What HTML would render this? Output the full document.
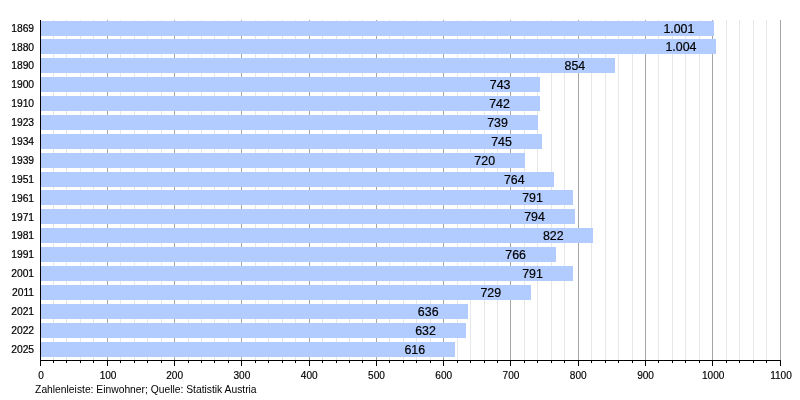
<!DOCTYPE html>
<html lang="de"><head><meta charset="utf-8"><title>Einwohner</title>
<style>html,body{margin:0;padding:0;background:#fff;overflow:hidden}svg{display:block}text{font-family:"Liberation Sans",Arial,Helvetica,sans-serif;fill:#000}</style></head><body>
<svg width="800" height="400" viewBox="0 0 800 400">
<rect width="800" height="400" fill="#fff"/>
<g shape-rendering="crispEdges">
<rect x="53.00" y="20" width="1" height="340" fill="#e6e6e6"/>
<rect x="66.00" y="20" width="1" height="340" fill="#e6e6e6"/>
<rect x="80.00" y="20" width="1" height="340" fill="#e6e6e6"/>
<rect x="93.00" y="20" width="1" height="340" fill="#e6e6e6"/>
<rect x="107.00" y="20" width="1" height="340" fill="#a6a6a6"/>
<rect x="120.00" y="20" width="1" height="340" fill="#e6e6e6"/>
<rect x="134.00" y="20" width="1" height="340" fill="#e6e6e6"/>
<rect x="147.00" y="20" width="1" height="340" fill="#e6e6e6"/>
<rect x="161.00" y="20" width="1" height="340" fill="#e6e6e6"/>
<rect x="174.00" y="20" width="1" height="340" fill="#a6a6a6"/>
<rect x="188.00" y="20" width="1" height="340" fill="#e6e6e6"/>
<rect x="201.00" y="20" width="1" height="340" fill="#e6e6e6"/>
<rect x="214.00" y="20" width="1" height="340" fill="#e6e6e6"/>
<rect x="228.00" y="20" width="1" height="340" fill="#e6e6e6"/>
<rect x="241.00" y="20" width="1" height="340" fill="#a6a6a6"/>
<rect x="255.00" y="20" width="1" height="340" fill="#e6e6e6"/>
<rect x="268.00" y="20" width="1" height="340" fill="#e6e6e6"/>
<rect x="282.00" y="20" width="1" height="340" fill="#e6e6e6"/>
<rect x="295.00" y="20" width="1" height="340" fill="#e6e6e6"/>
<rect x="309.00" y="20" width="1" height="340" fill="#a6a6a6"/>
<rect x="322.00" y="20" width="1" height="340" fill="#e6e6e6"/>
<rect x="336.00" y="20" width="1" height="340" fill="#e6e6e6"/>
<rect x="349.00" y="20" width="1" height="340" fill="#e6e6e6"/>
<rect x="362.00" y="20" width="1" height="340" fill="#e6e6e6"/>
<rect x="376.00" y="20" width="1" height="340" fill="#a6a6a6"/>
<rect x="389.00" y="20" width="1" height="340" fill="#e6e6e6"/>
<rect x="403.00" y="20" width="1" height="340" fill="#e6e6e6"/>
<rect x="416.00" y="20" width="1" height="340" fill="#e6e6e6"/>
<rect x="430.00" y="20" width="1" height="340" fill="#e6e6e6"/>
<rect x="443.00" y="20" width="1" height="340" fill="#a6a6a6"/>
<rect x="457.00" y="20" width="1" height="340" fill="#e6e6e6"/>
<rect x="470.00" y="20" width="1" height="340" fill="#e6e6e6"/>
<rect x="484.00" y="20" width="1" height="340" fill="#e6e6e6"/>
<rect x="497.00" y="20" width="1" height="340" fill="#e6e6e6"/>
<rect x="510.00" y="20" width="1" height="340" fill="#a6a6a6"/>
<rect x="524.00" y="20" width="1" height="340" fill="#e6e6e6"/>
<rect x="537.00" y="20" width="1" height="340" fill="#e6e6e6"/>
<rect x="551.00" y="20" width="1" height="340" fill="#e6e6e6"/>
<rect x="564.00" y="20" width="1" height="340" fill="#e6e6e6"/>
<rect x="578.00" y="20" width="1" height="340" fill="#a6a6a6"/>
<rect x="591.00" y="20" width="1" height="340" fill="#e6e6e6"/>
<rect x="605.00" y="20" width="1" height="340" fill="#e6e6e6"/>
<rect x="618.00" y="20" width="1" height="340" fill="#e6e6e6"/>
<rect x="632.00" y="20" width="1" height="340" fill="#e6e6e6"/>
<rect x="645.00" y="20" width="1" height="340" fill="#a6a6a6"/>
<rect x="658.00" y="20" width="1" height="340" fill="#e6e6e6"/>
<rect x="672.00" y="20" width="1" height="340" fill="#e6e6e6"/>
<rect x="685.00" y="20" width="1" height="340" fill="#e6e6e6"/>
<rect x="699.00" y="20" width="1" height="340" fill="#e6e6e6"/>
<rect x="712.00" y="20" width="1" height="340" fill="#a6a6a6"/>
<rect x="726.00" y="20" width="1" height="340" fill="#e6e6e6"/>
<rect x="739.00" y="20" width="1" height="340" fill="#e6e6e6"/>
<rect x="753.00" y="20" width="1" height="340" fill="#e6e6e6"/>
<rect x="766.00" y="20" width="1" height="340" fill="#e6e6e6"/>
<rect x="780.00" y="20" width="1" height="340" fill="#a6a6a6"/>
</g>
<g>
<rect x="41" y="21.00" width="673.00" height="15" fill="#b2ccff"/>
<rect x="41" y="39.00" width="675.00" height="15" fill="#b2ccff"/>
<rect x="41" y="58.00" width="574.00" height="15" fill="#b2ccff"/>
<rect x="41" y="77.00" width="499.00" height="15" fill="#b2ccff"/>
<rect x="41" y="96.00" width="499.00" height="15" fill="#b2ccff"/>
<rect x="41" y="115.00" width="497.00" height="15" fill="#b2ccff"/>
<rect x="41" y="134.00" width="501.00" height="15" fill="#b2ccff"/>
<rect x="41" y="153.00" width="484.00" height="15" fill="#b2ccff"/>
<rect x="41" y="172.00" width="513.00" height="15" fill="#b2ccff"/>
<rect x="41" y="190.00" width="532.00" height="15" fill="#b2ccff"/>
<rect x="41" y="209.00" width="534.00" height="15" fill="#b2ccff"/>
<rect x="41" y="228.00" width="552.00" height="15" fill="#b2ccff"/>
<rect x="41" y="247.00" width="515.00" height="15" fill="#b2ccff"/>
<rect x="41" y="266.00" width="532.00" height="15" fill="#b2ccff"/>
<rect x="41" y="285.00" width="490.00" height="15" fill="#b2ccff"/>
<rect x="41" y="304.00" width="427.00" height="15" fill="#b2ccff"/>
<rect x="41" y="323.00" width="425.00" height="15" fill="#b2ccff"/>
<rect x="41" y="342.00" width="414.00" height="15" fill="#b2ccff"/>
</g>
<g fill="#000" shape-rendering="crispEdges">
<rect x="40" y="20" width="1" height="341"/>
<rect x="40" y="360" width="741" height="1"/>
<rect x="40.00" y="360" width="1" height="5.6"/>
<rect x="53.00" y="360" width="1" height="2.8"/>
<rect x="66.00" y="360" width="1" height="2.8"/>
<rect x="80.00" y="360" width="1" height="2.8"/>
<rect x="93.00" y="360" width="1" height="2.8"/>
<rect x="107.00" y="360" width="1" height="5.6"/>
<rect x="120.00" y="360" width="1" height="2.8"/>
<rect x="134.00" y="360" width="1" height="2.8"/>
<rect x="147.00" y="360" width="1" height="2.8"/>
<rect x="161.00" y="360" width="1" height="2.8"/>
<rect x="174.00" y="360" width="1" height="5.6"/>
<rect x="188.00" y="360" width="1" height="2.8"/>
<rect x="201.00" y="360" width="1" height="2.8"/>
<rect x="214.00" y="360" width="1" height="2.8"/>
<rect x="228.00" y="360" width="1" height="2.8"/>
<rect x="241.00" y="360" width="1" height="5.6"/>
<rect x="255.00" y="360" width="1" height="2.8"/>
<rect x="268.00" y="360" width="1" height="2.8"/>
<rect x="282.00" y="360" width="1" height="2.8"/>
<rect x="295.00" y="360" width="1" height="2.8"/>
<rect x="309.00" y="360" width="1" height="5.6"/>
<rect x="322.00" y="360" width="1" height="2.8"/>
<rect x="336.00" y="360" width="1" height="2.8"/>
<rect x="349.00" y="360" width="1" height="2.8"/>
<rect x="362.00" y="360" width="1" height="2.8"/>
<rect x="376.00" y="360" width="1" height="5.6"/>
<rect x="389.00" y="360" width="1" height="2.8"/>
<rect x="403.00" y="360" width="1" height="2.8"/>
<rect x="416.00" y="360" width="1" height="2.8"/>
<rect x="430.00" y="360" width="1" height="2.8"/>
<rect x="443.00" y="360" width="1" height="5.6"/>
<rect x="457.00" y="360" width="1" height="2.8"/>
<rect x="470.00" y="360" width="1" height="2.8"/>
<rect x="484.00" y="360" width="1" height="2.8"/>
<rect x="497.00" y="360" width="1" height="2.8"/>
<rect x="510.00" y="360" width="1" height="5.6"/>
<rect x="524.00" y="360" width="1" height="2.8"/>
<rect x="537.00" y="360" width="1" height="2.8"/>
<rect x="551.00" y="360" width="1" height="2.8"/>
<rect x="564.00" y="360" width="1" height="2.8"/>
<rect x="578.00" y="360" width="1" height="5.6"/>
<rect x="591.00" y="360" width="1" height="2.8"/>
<rect x="605.00" y="360" width="1" height="2.8"/>
<rect x="618.00" y="360" width="1" height="2.8"/>
<rect x="632.00" y="360" width="1" height="2.8"/>
<rect x="645.00" y="360" width="1" height="5.6"/>
<rect x="658.00" y="360" width="1" height="2.8"/>
<rect x="672.00" y="360" width="1" height="2.8"/>
<rect x="685.00" y="360" width="1" height="2.8"/>
<rect x="699.00" y="360" width="1" height="2.8"/>
<rect x="712.00" y="360" width="1" height="5.6"/>
<rect x="726.00" y="360" width="1" height="2.8"/>
<rect x="739.00" y="360" width="1" height="2.8"/>
<rect x="753.00" y="360" width="1" height="2.8"/>
<rect x="766.00" y="360" width="1" height="2.8"/>
<rect x="780.00" y="360" width="1" height="5.6"/>
</g>
<g font-size="10.3" text-anchor="end" stroke="#000" stroke-width="0.2">
<text x="34.1" y="32">1869</text>
<text x="34.1" y="51">1880</text>
<text x="34.1" y="69">1890</text>
<text x="34.1" y="88">1900</text>
<text x="34.1" y="107">1910</text>
<text x="34.1" y="126">1923</text>
<text x="34.1" y="145">1934</text>
<text x="34.1" y="164">1939</text>
<text x="34.1" y="183">1951</text>
<text x="34.1" y="202">1961</text>
<text x="34.1" y="221">1971</text>
<text x="34.1" y="239">1981</text>
<text x="34.1" y="258">1991</text>
<text x="34.1" y="277">2001</text>
<text x="34.1" y="296">2011</text>
<text x="34.1" y="315">2021</text>
<text x="34.1" y="334">2022</text>
<text x="34.1" y="353">2025</text>
</g>
<g font-size="12.4" stroke="#000" stroke-width="0.2">
<text x="663.40" y="33">1.001</text>
<text x="665.42" y="51">1.004</text>
<text x="564.51" y="70">854</text>
<text x="489.84" y="89">743</text>
<text x="489.16" y="108">742</text>
<text x="487.15" y="127">739</text>
<text x="491.18" y="146">745</text>
<text x="474.36" y="165">720</text>
<text x="503.96" y="184">764</text>
<text x="522.13" y="202">791</text>
<text x="524.15" y="221">794</text>
<text x="542.98" y="240">822</text>
<text x="505.31" y="259">766</text>
<text x="522.13" y="278">791</text>
<text x="480.42" y="297">729</text>
<text x="417.85" y="316">636</text>
<text x="415.16" y="335">632</text>
<text x="404.40" y="354">616</text>
</g>
<g font-size="10.1" text-anchor="middle" stroke="#000" stroke-width="0.15">
<text x="41.00" y="379">0</text>
<text x="108.07" y="379">100</text>
<text x="174.65" y="379">200</text>
<text x="241.92" y="379">300</text>
<text x="309.19" y="379">400</text>
<text x="376.46" y="379">500</text>
<text x="443.74" y="379">600</text>
<text x="511.01" y="379">700</text>
<text x="578.28" y="379">800</text>
<text x="645.55" y="379">900</text>
<text x="713.23" y="379">1000</text>
<text x="781.00" y="379">1100</text>
</g>
<text x="35.1" y="393" font-size="10.3">Zahlenleiste: Einwohner; Quelle: Statistik Austria</text>
</svg></body></html>
